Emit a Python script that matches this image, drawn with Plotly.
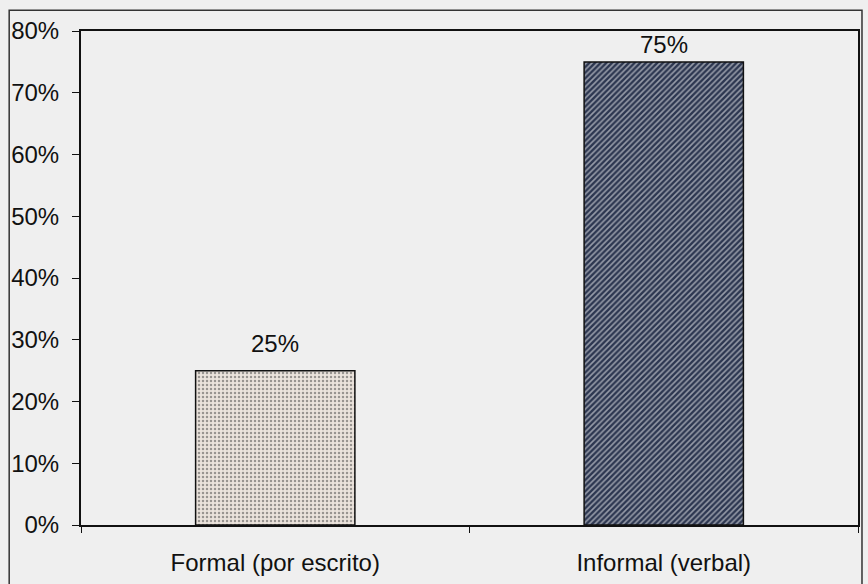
import plotly.graph_objects as go

categories = ["Formal (por escrito)", "Informal (verbal)"]
values = [25, 75]
labels = ["25%", "75%"]
y_ticks = [0, 10, 20, 30, 40, 50, 60, 70, 80]
y_tick_text = ["0%", "10%", "20%", "30%", "40%", "50%", "60%", "70%", "80%"]

W, H = 868, 584
L, R, T, B = 81, 8, 31, 55
pw, ph = W - L - R, H - T - B

font = dict(family="Liberation Sans, Arial, sans-serif", size=24, color="#111111")

fig = go.Figure()
fig.add_trace(go.Bar(
    x=categories,
    y=values,
    marker=dict(
        color=["#ebe3dc", "#2c3650"],
        line=dict(color="#111111", width=1.5),
        pattern=dict(
            shape=[".", "/"],
            fgcolor=["#4a4646", "#b3bdcd"],
            bgcolor=["#ebe3dc", "#232c45"],
            size=[4, 4],
            solidity=[0.3, 0.4],
            fillmode="overlay",
        ),
    ),
    width=0.41,
))

# value labels above the bars (the tall bar's label is squeezed under the frame)
label_shift = [12, 2]
for cat, val, lab, dy in zip(categories, values, labels, label_shift):
    fig.add_annotation(
        x=cat, y=val, text=lab, showarrow=False,
        yanchor="bottom", yshift=dy, font=font,
    )

# outer frame around the whole chart
fig.add_shape(
    type="rect", xref="paper", yref="paper",
    x0=(9 - L) / pw, x1=(864 - L) / pw,
    y0=-(B + 10) / ph, y1=1 + (T - 10) / ph,
    line=dict(color="#333333", width=1.5), layer="below",
)

fig.update_layout(
    width=W, height=H,
    margin=dict(l=L, r=R, t=T, b=B),
    paper_bgcolor="#efefef",
    plot_bgcolor="#efefef",
    showlegend=False,
    font=font,
    xaxis=dict(
        showgrid=False, zeroline=False,
        showline=True, linecolor="#111111", linewidth=2, mirror=True,
        ticks="outside", ticklen=6, tickcolor="#111111", tickson="boundaries",
        ticklabelstandoff=15,
        tickfont=font,
    ),
    yaxis=dict(
        range=[0, 80],
        tickvals=y_ticks, ticktext=y_tick_text,
        showgrid=False, zeroline=False,
        showline=True, linecolor="#111111", linewidth=2, mirror=True,
        ticks="outside", ticklen=7, tickcolor="#111111",
        ticklabelstandoff=8,
        tickfont=font,
    ),
)

fig.write_html("out.html")
